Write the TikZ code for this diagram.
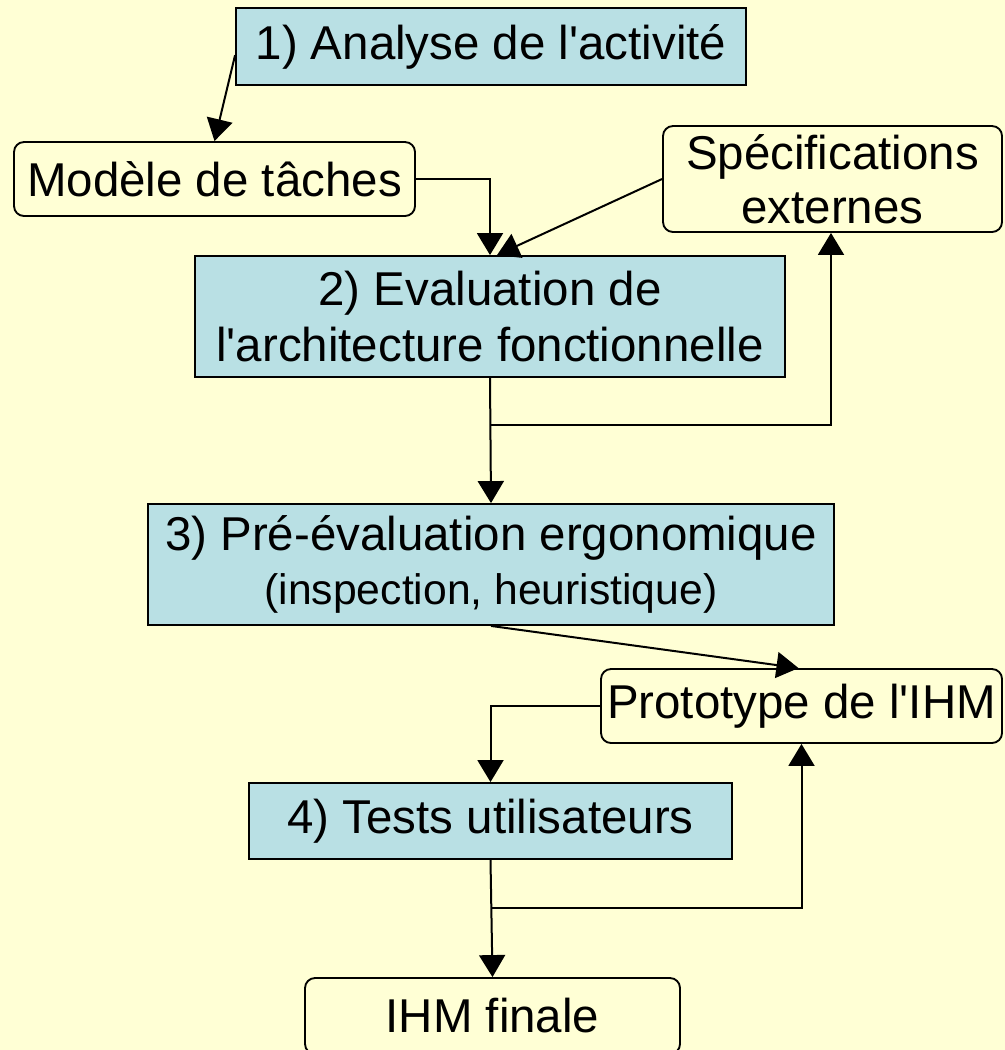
\documentclass[tikz,border=0pt]{standalone}
\usepackage{fontspec}
\setmainfont{Liberation Sans}
\usetikzlibrary{arrows.meta,calc}
\definecolor{paper}{RGB}{255,255,213}
\definecolor{stepblue}{RGB}{185,224,228}
\newcommand{\apos}{\textquotesingle}
\begin{document}
\begin{tikzpicture}[x=0.75pt,y=-0.75pt,
  every node/.style={font=\fontsize{35.6}{42}\selectfont, inner sep=0pt, align=center},
  stepbox/.style={draw=black, line width=1.4pt, fill=stepblue},
  docbox/.style={draw=black, line width=1.4pt, fill=paper, rounded corners=7.5pt},
  link/.style={draw=black, line width=1.5pt, -{Triangle[length=16.5pt,width=19.5pt]}},
  plain/.style={draw=black, line width=1.5pt}]
  % page
  \fill[paper] (0,0) rectangle (1005,1050);
  \useasboundingbox (0,0) rectangle (1005,1050);

  % boxes
  \node[stepbox, minimum width=382.5pt, minimum height=57.75pt] (a1) at (491,46.5) {1) Analyse de l\apos activité};
  \node[docbox, minimum width=300.75pt, minimum height=55.5pt] (tasks) at (214.5,179) {Modèle de tâches};
  \node[docbox, minimum width=254.25pt, minimum height=79.5pt, font=\fontsize{35.6}{40.5}\selectfont] (spec) at (832.5,179) {Spécifications\\externes};
  \node[stepbox, minimum width=442.5pt, minimum height=90.75pt] (a2) at (490,316.5) {2) Evaluation de\\l\apos architecture fonctionnelle};
  \node[stepbox, minimum width=514.5pt, minimum height=90.75pt, font=\fontsize{35.6}{41}\selectfont] (a3) at (491,564.5) {3) Pré-évaluation ergonomique\\{\fontsize{32}{41}\selectfont (inspection, heuristique)}};
  \node[docbox, minimum width=300.75pt, minimum height=55.5pt] (proto) at (801.5,706) {Prototype de l\apos IHM};
  \node[stepbox, minimum width=362.25pt, minimum height=57pt] (a4) at (490.5,821) {4) Tests utilisateurs};
  \node[docbox, minimum width=281.25pt, minimum height=57pt] (final) at (492.5,1016) {IHM finale};

  % branch points
  \coordinate (j1) at (490,425);
  \coordinate (j2) at (491,908);

  % connectors
  \draw[link] ([yshift=-6.5pt]a1.west) -- (tasks.north);
  \draw[link] (tasks.east) -| (a2.north);
  \draw[link] (spec.west) -- ($(a2.north)+(7,0)$);
  \draw[link] (a2.south) -- (a3.north);
  \draw[plain] (j1) -| ($(spec.south)+(-1.5,14)$);
  \draw[link] ($(spec.south)+(-1.5,14)$) -- ($(spec.south)+(-1.5,0)$);
  \draw[link] (a3.south) -- ($(proto.north)+(-3,0)$);
  \draw[link] (proto.west) -| (a4.north);
  \draw[link] (a4.south) -- (final.north);
  \draw[link] (j2) -| (proto.south);
\end{tikzpicture}
\end{document}
